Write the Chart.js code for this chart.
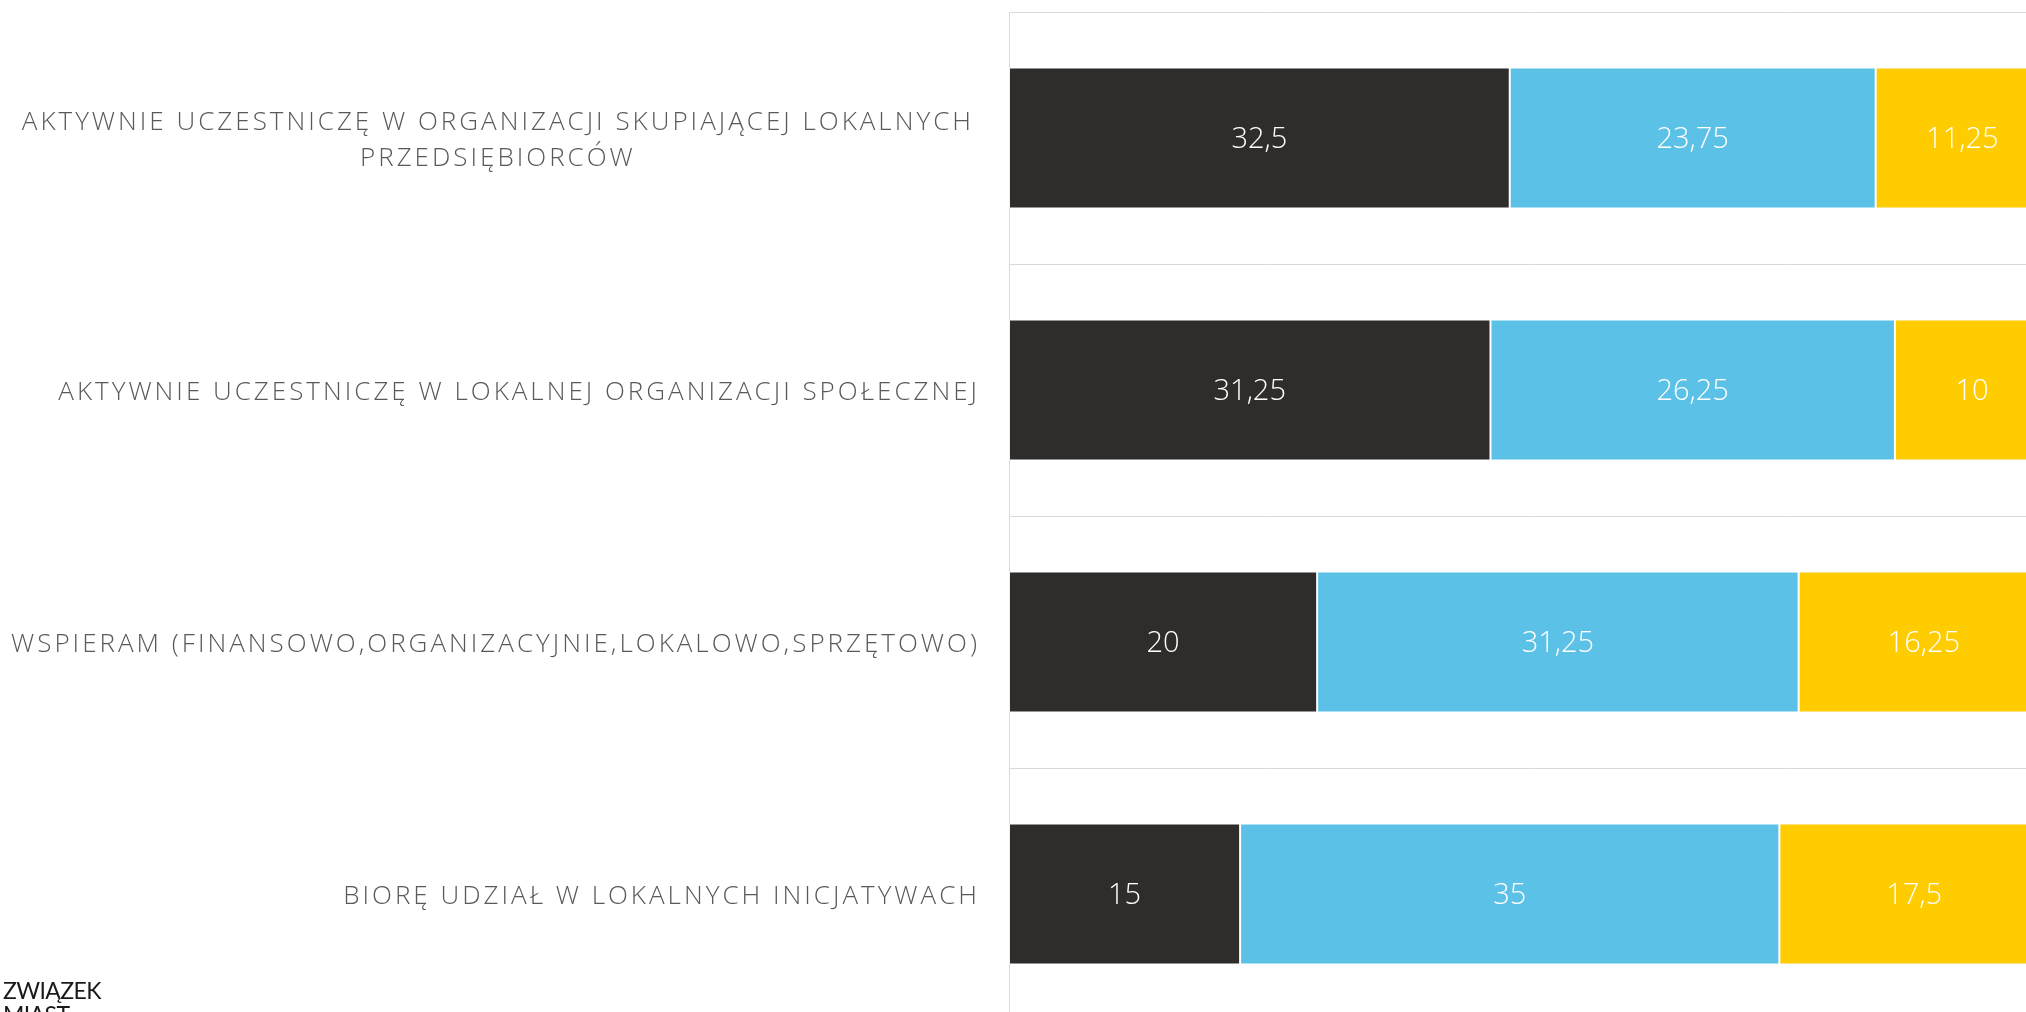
<!DOCTYPE html>
<html>
<head>
<meta charset="utf-8">
<script src="https://cdn.jsdelivr.net/npm/chart.js@4"></script>
<style>
    html, body { margin: 0; padding: 0; background: #fff; overflow: hidden; width: 2026px; height: 1012px; }
    #wrap { position: absolute; left: 0; top: 0; }
    #logo { position: absolute; left: 3px; top: 978px; font-family: Lato, sans-serif; font-size: 23px; letter-spacing: -0.6px; line-height: 24px; color: #1a1a1a; }
</style>
</head>
<body>
<div id="wrap"><canvas id="chart" width="2049" height="1020"></canvas></div>
<div id="logo">ZWIĄZEK<br>MIAST<br>POLSKICH</div>

<script>
// categories (multi-line labels) and series values, in %
const categories = [
    ["AKTYWNIE UCZESTNICZĘ W ORGANIZACJI SKUPIAJĄCEJ LOKALNYCH", "PRZEDSIĘBIORCÓW"],
    ["AKTYWNIE UCZESTNICZĘ W LOKALNEJ ORGANIZACJI SPOŁECZNEJ"],
    ["WSPIERAM (FINANSOWO,ORGANIZACYJNIE,LOKALOWO,SPRZĘTOWO)"],
    ["BIORĘ UDZIAŁ W LOKALNYCH INICJATYWACH"]
];
const seriesNames = ["Seria 1", "Seria 2", "Seria 3"];
const series1 = [32.5, 31.25, 20, 15];
const series2 = [23.75, 26.25, 31.25, 35];
const series3 = [11.25, 10, 16.25, 17.5];
const colors = ["#2e2d2b", "#5bc1e6", "#ffcc00"];
const xMax = 67.5;

// labels left of the axis: block right-aligned, lines centred in the block
const categoryLabels = {
    id: "categoryLabels",
    afterDraw(chart) {
        const ctx = chart.ctx;
        const yScale = chart.scales.y;
        ctx.save();
        ctx.font = '300 26px "Open Sans"';
        ctx.letterSpacing = "3px";
        ctx.fillStyle = "#595959";
        ctx.textBaseline = "middle";
        ctx.textAlign = "center";
        const right = chart.chartArea.left - 29;
        categories.forEach((lines, i) => {
            const cy = yScale.getPixelForValue(i) + 3;
            const w = Math.max(...lines.map(l => ctx.measureText(l).width));
            const cx = right - w / 2 - (lines.length > 1 ? 6 : 0);
            lines.forEach((l, j) => {
                ctx.fillText(l, cx, cy + (j - (lines.length - 1) / 2) * 36);
            });
        });
        ctx.restore();
    }
};

// white value labels in the middle of each segment
const valueLabels = {
    id: "valueLabels",
    afterDatasetsDraw(chart) {
        const ctx = chart.ctx;
        ctx.save();
        ctx.font = '300 29px "Open Sans"';
        ctx.fillStyle = "#ffffff";
        ctx.textAlign = "center";
        ctx.textBaseline = "middle";
        chart.data.datasets.forEach((ds, di) => {
            chart.getDatasetMeta(di).data.forEach((bar, i) => {
                const p = bar.getCenterPoint();
                ctx.fillText(String(ds.data[i]).replace(".", ","), p.x, p.y + 2);
            });
        });
        ctx.restore();
    }
};

const ctx = document.getElementById("chart").getContext("2d");

new Chart(ctx, {
    type: "bar",
    data: {
        labels: categories.map(c => c.join(" ")),
        datasets: [series1, series2, series3].map((d, i) => ({
            label: seriesNames[i],
            data: d,
            backgroundColor: colors[i],
            borderColor: "rgba(255,255,255,0.6)",
            borderWidth: 1,
            borderSkipped: false,
            barPercentage: 0.56,
            categoryPercentage: 1
        }))
    },
    options: {
        indexAxis: "y",
        responsive: false,
        animation: false,
        devicePixelRatio: 1,
        layout: { padding: { top: 12, right: 0, bottom: 0, left: 0 } },
        plugins: {
            legend: { display: false },
            tooltip: { enabled: false }
        },
        scales: {
            x: {
                stacked: true,
                display: false,
                min: 0,
                max: xMax
            },
            y: {
                stacked: true,
                ticks: { display: false },
                grid: { offset: true, color: "#d9d9d9", lineWidth: 1, drawTicks: false },
                border: { color: "#d9d9d9" },
                afterFit(scale) { scale.width = 1009; }
            }
        }
    },
    plugins: [categoryLabels, valueLabels]
});
</script>
</body>
</html>
